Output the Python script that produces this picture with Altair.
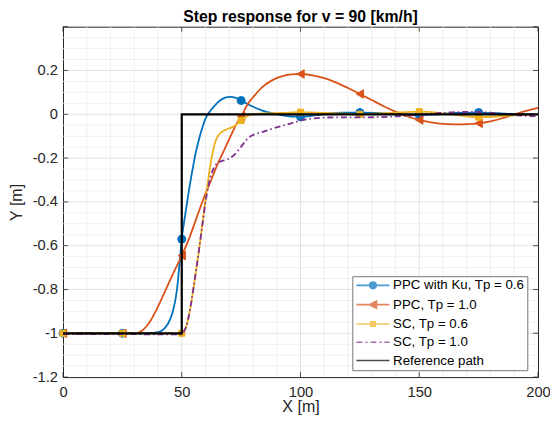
import altair as alt
import pandas as pd

TITLE = "Step response for v = 90 [km/h]"
X_LABEL = "X [m]"
Y_LABEL = "Y [m]"
SERIES = ["PPC with Ku, Tp = 0.6", "PPC, Tp = 1.0", "SC, Tp = 0.6", "SC, Tp = 1.0", "Reference path"]
COLORS = ["#0072BD", "#D95319", "#EDB120", "#7E2F8E", "#000000"]

X_PPC_KU = [0, 25, 36, 40, 42, 44, 46, 48, 49, 50, 51, 52, 53, 54, 55, 56, 57, 58, 59, 60, 61, 62,
            63.5, 65.5, 68, 70.5, 73, 75, 78, 81, 84, 88, 92, 96, 100, 104, 108, 112, 118, 125, 132,
            140, 150, 158, 166, 175, 183, 191, 200]
Y_PPC_KU = [-1, -1, -1, -0.995, -0.985, -0.96, -0.91, -0.8, -0.69, -0.57, -0.49, -0.42, -0.35, -0.285,
            -0.225, -0.17, -0.125, -0.085, -0.05, -0.02, 0.0, 0.015, 0.035, 0.058, 0.075, 0.08, 0.074,
            0.063, 0.045, 0.03, 0.017, 0.005, -0.004, -0.01, -0.011, -0.008, -0.002, 0.004, 0.008, 0.008,
            0.006, 0.0, -0.003, 0.001, 0.006, 0.008, 0.005, 0.0, 0.0]

X_PPC = [0, 25, 31, 33, 35, 37, 39, 41, 43, 45, 47, 50, 53, 56, 59, 62, 65, 68, 71, 73, 75, 78, 81, 84,
         88, 92, 96, 100, 105, 110, 115, 120, 125, 130, 135, 140, 145, 150, 155, 160, 165, 170, 175,
         180, 185, 190, 195, 200]
Y_PPC = [-1, -1, -1, -0.99, -0.97, -0.94, -0.9, -0.855, -0.808, -0.76, -0.713, -0.645, -0.57, -0.48,
         -0.39, -0.31, -0.23, -0.16, -0.09, -0.045, -0.01, 0.05, 0.09, 0.125, 0.155, 0.173, 0.182, 0.184,
         0.178, 0.165, 0.145, 0.12, 0.093, 0.065, 0.037, 0.012, -0.01, -0.026, -0.037, -0.044, -0.046,
         -0.045, -0.041, -0.032, -0.018, 0.0, 0.016, 0.03]

X_SC = [0, 25, 50, 51, 52, 53, 54, 55, 56, 57, 58, 59, 60, 61, 62, 63, 64, 65.5, 67, 69, 72, 75, 77,
        79, 85, 92, 100, 110, 125, 138, 150, 162, 175, 188, 200]
Y_SC = [-1, -1, -1, -0.99, -0.965, -0.92, -0.86, -0.79, -0.715, -0.64, -0.56, -0.475, -0.39, -0.31,
        -0.235, -0.175, -0.13, -0.095, -0.08, -0.068, -0.055, -0.028, -0.012, -0.002, 0.004, 0.006,
        0.01, 0.006, 0.0, 0.006, 0.012, 0.002, -0.013, -0.006, 0.0]

X_SC1 = [0, 25, 50, 51, 52, 53, 54, 55, 56, 57, 58, 59, 60, 61, 62, 63.5, 65, 67, 69, 71, 73, 75, 77,
         79, 82, 85, 88, 92, 96, 100, 105, 110, 116, 125, 133, 141, 150, 158, 166, 173, 180, 188, 195, 200]
Y_SC1 = [-1.004, -1.004, -1.005, -0.99, -0.965, -0.92, -0.86, -0.79, -0.715, -0.64, -0.56, -0.48, -0.4,
         -0.34, -0.29, -0.245, -0.222, -0.213, -0.207, -0.195, -0.175, -0.148, -0.12, -0.1, -0.087,
         -0.077, -0.066, -0.054, -0.041, -0.029, -0.019, -0.015, -0.014, -0.014, -0.013, -0.009,
         -0.002, 0.005, 0.01, 0.011, 0.007, -0.001, -0.007, -0.009]

X_REF = [0, 50, 50, 200]
Y_REF = [-1, -1, 0, 0]

MARKER_X = [0, 25, 50, 75, 100, 125, 150, 175]

X_TICKS = [0, 50, 100, 150, 200]
Y_TICKS = [-1.2, -1.0, -0.8, -0.6, -0.4, -0.2, 0.0, 0.2]
Y_TICKS_ALL = [-1.2, -1.0, -0.8, -0.6, -0.4, -0.2, 0.0, 0.2, 0.4]
X_GRID_MAJOR = [50, 100, 150]
X_GRID_MINOR = [10, 20, 30, 40, 60, 70, 80, 90, 110, 120, 130, 140, 160, 170, 180, 190]
Y_GRID_MAJOR = [-1.0, -0.8, -0.6, -0.4, -0.2, 0.0, 0.2]
Y_GRID_MINOR = [-1.15, -1.1, -1.05, -0.95, -0.9, -0.85, -0.75, -0.7, -0.65, -0.55, -0.5, -0.45,
                -0.35, -0.3, -0.25, -0.15, -0.1, -0.05, 0.05, 0.1, 0.15, 0.25, 0.3, 0.35]

W, H = 475, 350.4
FONT = "Liberation Sans"
AX = "#262626"

LEGEND_PATHS = [
    "M-1,0H5.6M1.65,0A0.65,0.65 0 1 0 2.95,0A0.65,0.65 0 1 0 1.65,0Z",
    "M-1,0H5.6M1.6,0L3.0,-0.7L3.0,0.7Z",
    "M-1,0H5.6M1.85,-0.45H2.75V0.45H1.85Z",
    "M-1,0H0.2M0.8,0H1.2M1.8,0H3M3.6,0H4M4.6,0H5.6",
    "M-1,0H5.6",
]

series_data = [
    (X_PPC_KU, Y_PPC_KU, "circle", 64),
    (X_PPC, Y_PPC, "triangle-left", 72),
    (X_SC, Y_SC, "square", 36),
    (X_SC1, Y_SC1, None, 0),
    (X_REF, Y_REF, None, 0),
]

xscale = alt.Scale(domain=[0, 200], nice=False, zero=False)
yscale = alt.Scale(domain=[-1.2, 0.4], nice=False, zero=False)
x_axis = alt.Axis(values=X_TICKS, title=X_LABEL, labelPadding=7, titlePadding=0,
                  labelExpr="'' + datum.value", labelFlush=False)
y_axis = alt.Axis(values=Y_TICKS, title=Y_LABEL, labelPadding=5.5, titlePadding=8,
                  labelExpr="'' + datum.value", labelFlush=False)

def X():
    return alt.X("x:Q", scale=xscale, axis=x_axis)

def Y():
    return alt.Y("y:Q", scale=yscale, axis=y_axis)

layers = []
# grid
for vals, col in [(X_GRID_MINOR, "#ececec"), (X_GRID_MAJOR, "#dadada")]:
    layers.append(alt.Chart(pd.DataFrame({"x": vals})).mark_rule(color=col, strokeWidth=0.8).encode(x=X()))
for vals, col in [(Y_GRID_MINOR, "#ececec"), (Y_GRID_MAJOR, "#dadada")]:
    layers.append(alt.Chart(pd.DataFrame({"y": vals})).mark_rule(color=col, strokeWidth=0.8).encode(y=Y()))

for i, (xs, ys, shape, size) in enumerate(series_data):
    df = pd.DataFrame({"x": xs, "y": ys, "i": list(range(len(xs)))})
    color = COLORS[i]
    if i == 4:
        line = alt.Chart(df).mark_line(color=color, strokeWidth=2.2, interpolate="linear")
    elif i == 3:
        line = alt.Chart(df).mark_line(color=color, strokeWidth=1.8, interpolate="monotone",
                                       strokeDash=[6, 3, 1.5, 3])
    else:
        line = alt.Chart(df).mark_line(color=color, strokeWidth=1.8, interpolate="monotone")
    layers.append(line.encode(x=X(), y=Y(), order="i:Q"))
    if shape:
        mdf = df[df["x"].isin(MARKER_X)]
        layers.append(alt.Chart(mdf).mark_point(shape=shape, filled=True, size=size, fill=color,
                                                stroke=color, strokeWidth=1, opacity=1)
                      .encode(x=X(), y=Y()))

# inward ticks
tk = dict(color=AX, strokeWidth=0.8)
xt = pd.DataFrame({"x": X_TICKS})
yt = pd.DataFrame({"y": Y_TICKS_ALL})
layers.append(alt.Chart(xt).mark_rule(**tk).encode(x=X(), y=alt.value(H), y2=alt.value(H - 5)))
layers.append(alt.Chart(xt).mark_rule(**tk).encode(x=X(), y=alt.value(0), y2=alt.value(5)))
layers.append(alt.Chart(yt).mark_rule(**tk).encode(y=Y(), x=alt.value(0), x2=alt.value(5)))
layers.append(alt.Chart(yt).mark_rule(**tk).encode(y=Y(), x=alt.value(W), x2=alt.value(W - 5)))

# legend layer (no visible marks)
leg = alt.Legend(title=None, orient="none", legendX=289.3, legendY=249.5, padding=2.5,
                 rowPadding=4.3, symbolSize=100, symbolStrokeWidth=1.6, labelFont=FONT,
                 labelFontSize=13.3, labelColor="#000000", labelOffset=25, fillColor="white",
                 strokeColor="#777777", labelLimit=300)
ldf = pd.DataFrame({"s": SERIES, "x": [0] * 5, "y": [-1] * 5})
layers.append(
    alt.Chart(ldf).transform_filter("false").mark_point(filled=True, size=100, strokeWidth=1.6)
    .encode(
        x=X(), y=Y(),
        color=alt.Color("s:N", scale=alt.Scale(domain=SERIES, range=COLORS), legend=leg),
        stroke=alt.Stroke("s:N", scale=alt.Scale(domain=SERIES, range=COLORS), legend=leg),
        shape=alt.Shape("s:N", scale=alt.Scale(domain=SERIES, range=LEGEND_PATHS), legend=leg),
    )
)

chart = alt.layer(*layers).properties(
    width=W, height=H,
    title=alt.TitleParams(TITLE, font=FONT, fontSize=15.8, fontWeight="bold", color="#000000",
                          offset=0, anchor="middle", frame="group"),
    padding={"left": 55, "top": 18.7, "right": 12, "bottom": 41.5},
    autosize=alt.AutoSizeParams(type="none"),
).configure_view(stroke=AX, strokeWidth=1).configure_axis(
    labelFont=FONT, labelFontSize=14.7, labelColor=AX, titleFont=FONT, titleFontSize=16,
    titleFontWeight="normal", titleColor=AX, domain=False, ticks=False, tickSize=0, grid=False,
)

chart.save("out.html", embed_options={"renderer": "svg", "actions": False})
